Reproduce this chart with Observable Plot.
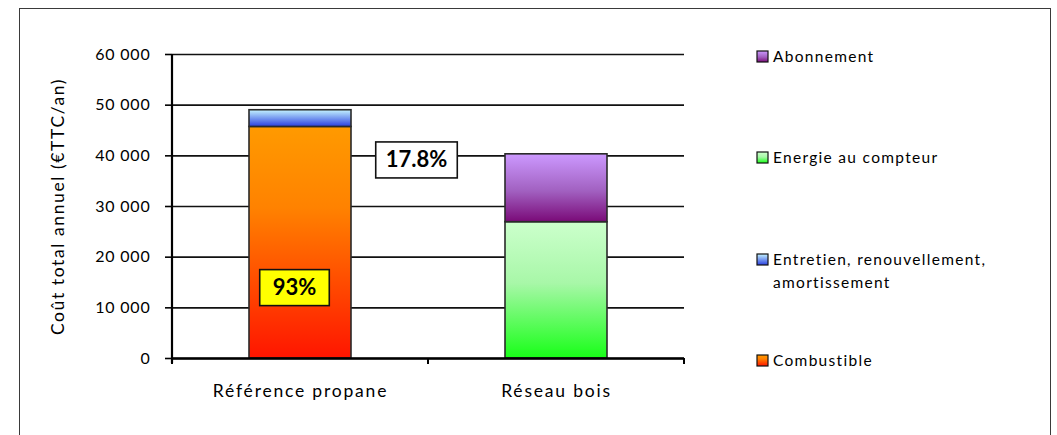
<!DOCTYPE html>
<html><head><meta charset="utf-8">
<script src="https://cdn.jsdelivr.net/npm/d3@7"></script>
<script src="https://cdn.jsdelivr.net/npm/@observablehq/plot@0.6"></script>
<style>
html,body{margin:0;padding:0;overflow:hidden;background:#fff;}
#wrap{position:relative;width:1057px;height:435px;background:#fff;}
#wrap svg{position:absolute;left:0;top:0;}
#border{position:absolute;left:19px;top:8px;width:1032px;height:445px;border:1.5px solid #3a3a3a;box-sizing:border-box;pointer-events:none;}
</style></head><body><div id="wrap"></div>
<script>
// ---- data ----
const categories = ["Référence propane", "Réseau bois"];
const seriesNames = ["Combustible", "Entretien, renouvellement, amortissement", "Energie au compteur", "Abonnement"];
const combustible = [45700, 0];
const entretien = [3300, 0];
const energie = [0, 26900];
const abonnement = [0, 13400];
const yTicks = [0, 10000, 20000, 30000, 40000, 50000, 60000];
const yTickLabels = ["0", "10 000", "20 000", "30 000", "40 000", "50 000", "60 000"];
const yLabel = "Coût total annuel (€TTC/an)";
const legendOrder = ["Abonnement", "Energie au compteur", "Entretien, renouvellement, amortissement", "Combustible"];
const legendLines = [["Abonnement"], ["Energie au compteur"], ["Entretien, renouvellement,", "amortissement"], ["Combustible"]];
const annCategory = ["Référence propane", "Référence propane"];
const annValue = [39100, 13900];
const annText = ["17.8%", "93%"];

// gradient colours per series (top -> bottom)
const gradients = {
  "Combustible": [["0%", "#ff9a00"], ["35%", "#ff8200"], ["100%", "#ff1500"]],
  "Entretien, renouvellement, amortissement": [["0%", "#c4f4ff"], ["100%", "#2a3fe0"]],
  "Energie au compteur": [["0%", "#ccffcc"], ["45%", "#a8f7a8"], ["100%", "#18ff18"]],
  "Abonnement": [["0%", "#cc99ff"], ["55%", "#a160c0"], ["100%", "#7a0a78"]]
};
const gradId = s => "grad" + seriesNames.indexOf(s);

const values = [combustible, entretien, energie, abonnement];
const table = [];
seriesNames.forEach((s, si) => categories.forEach((c, ci) => {
  if (values[si][ci] > 0) table.push({category: c, series: s, value: values[si][ci]});
}));

const plot = Plot.plot({
  width: 1057,
  height: 435,
  marginLeft: 172,
  marginRight: 373,
  marginTop: 54,
  marginBottom: 77,
  x: {domain: categories, paddingInner: 0.6, paddingOuter: 0.3, label: null},
  y: {domain: [0, 60000], label: null},
  color: {type: "identity"},
  style: {fontFamily: "Lato, sans-serif", color: "#000", background: "transparent", overflow: "visible"},
  marks: [
    Plot.gridY(yTicks, {stroke: "#111", strokeOpacity: 1, strokeWidth: 1.6}),
    Plot.axisY(yTicks, {tickFormat: (d) => yTickLabels[yTicks.indexOf(d)], tickSize: 7, tickPadding: 15, fontSize: 16, stroke: "#000", strokeWidth: 1.6, fill: "#000"}),
    Plot.text([yLabel], {frameAnchor: "left", textAnchor: "middle", rotate: -90, dx: -114, fontSize: 17.5, fill: "#000", ariaDescription: "ylabel"}),
    Plot.barY(table, Plot.stackY({x: "category", y: "value", fill: d => `url(#${gradId(d.series)})`, stroke: "#2a2a2a", strokeWidth: 1.6})),
    Plot.axisX({tickSize: 0, tickPadding: 26, fontSize: 17.5, fill: "#000"}),
    Plot.ruleY([0], {stroke: "#000", strokeWidth: 2.6}),
    Plot.text([0], {x: [annCategory[0]], y: [annValue[0]], text: [annText[0]], dx: 116, fontSize: 22, fontWeight: "bold", fill: "#000", ariaDescription: "ann-white"}),
    Plot.text([0], {x: [annCategory[1]], y: [annValue[1]], text: [annText[1]], dx: -6, fontSize: 22, fontWeight: "bold", fill: "#000", ariaDescription: "ann-yellow"})
  ]
});

const wrap = document.getElementById("wrap");
wrap.appendChild(plot);
const border = document.createElement("div");
border.id = "border";
wrap.appendChild(border);

const svg = d3.select(plot);
// gradients
const defs = svg.insert("defs", ":first-child");
for (const s of seriesNames) {
  const g = defs.append("linearGradient").attr("id", gradId(s)).attr("x1", 0).attr("y1", 0).attr("x2", 0).attr("y2", 1);
  for (const [o, c] of gradients[s]) g.append("stop").attr("offset", o).attr("stop-color", c);
}

// letter spacing tweaks
svg.selectAll('[aria-label="x-axis tick label"]').style("letter-spacing", "1.8px");
svg.selectAll('[aria-label="y-axis tick label"]').style("letter-spacing", "0.8px");
svg.selectAll('[aria-description="ylabel"]').style("letter-spacing", "1.6px");

// axis line and category boundary ticks from Plot's scales
const xs = plot.scale("x"), ys = plot.scale("y");
const y0 = ys.apply(0), yTop = ys.apply(60000);
const axes = svg.append("g").attr("stroke", "#000");
axes.append("line").attr("x1", xs.range[0]).attr("x2", xs.range[0]).attr("y1", yTop).attr("y2", y0 + 5).attr("stroke-width", 2.2);
for (let i = 0; i <= categories.length; i++) {
  const bx = xs.range[0] + i * xs.step;
  axes.append("line").attr("x1", bx).attr("x2", bx).attr("y1", y0).attr("y2", y0 + 6).attr("stroke-width", 2);
}

// annotation boxes
function boxify(label, fill, pad) {
  svg.selectAll(`[aria-description="${label}"] text`).each(function() {
    const b = this.getBBox();
    const cx = b.x + b.width / 2, cy = b.y + b.height / 2;
    const w = b.width + pad, h = 36;
    const r = d3.select(this.parentNode).insert("rect", () => this)
      .attr("x", cx - w / 2).attr("y", cy - h / 2 + 1).attr("width", w).attr("height", h)
      .attr("fill", fill).attr("stroke", "#111").attr("stroke-width", 1.6);
    const t = this.getAttribute("transform");
    if (t) r.attr("transform", t);
  });
}
boxify("ann-white", "#ffffff", 20);
boxify("ann-yellow", "#ffff00", 26);

// legend
const legY = [57, 158, 260, 361];
const leg = svg.append("g").attr("font-family", "Lato, sans-serif").attr("font-size", 15.5).attr("fill", "#000").style("letter-spacing", "1.3px");
legendOrder.forEach((s, i) => {
  leg.append("rect").attr("x", 757).attr("y", legY[i] - 6).attr("width", 11).attr("height", 11)
    .attr("fill", `url(#${gradId(s)})`).attr("stroke", "#111").attr("stroke-width", 1.2);
  legendLines[i].forEach((line, j) => {
    leg.append("text").attr("x", 773).attr("y", legY[i] + 23 * j).attr("dy", "0.35em").attr("text-anchor", "start").text(line);
  });
});
</script></body></html>
